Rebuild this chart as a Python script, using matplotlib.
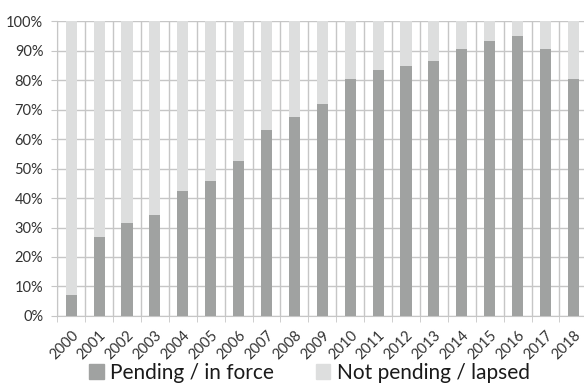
import numpy as np
import matplotlib
matplotlib.use("Agg")
import matplotlib.pyplot as plt
import matplotlib.ticker as ticker
from matplotlib.patches import Patch

# Data (share of applications per filing year, %)
years = [str(y) for y in range(2000, 2019)]
pending = [7.1, 26.8, 31.5, 34.2, 42.4, 45.8, 52.4, 63.2, 67.6, 71.9,
           80.3, 83.4, 84.7, 86.4, 90.5, 93.4, 94.9, 90.5, 80.3]
lapsed = [100 - p for p in pending]

DARK = "#a0a2a1"
LIGHT = "#dddede"
GRID = "#c6c6c6"

plt.rcParams["font.family"] = ["Lato", "DejaVu Sans"]

fig = plt.figure(figsize=(5.84, 3.83), dpi=100)
ax = fig.add_axes([0.098, 0.175, 0.9077, 0.770])

x = np.arange(len(years))
ax.bar(x, pending, 0.4, color=DARK, zorder=3)
ax.bar(x, lapsed, 0.4, bottom=pending, color=LIGHT, zorder=3)

ax.set_xlim(-0.5, len(years) - 0.5)
ax.set_ylim(0, 100)
ax.yaxis.set_major_locator(ticker.MultipleLocator(10))
ax.yaxis.set_major_formatter(ticker.FuncFormatter(lambda v, _: f"{v:.0f}%"))

ax.set_xticks(x)
ax.set_xticklabels(years, rotation=45, ha="right", rotation_mode="anchor",
                   fontsize=10.5, color="#333333")
ax.tick_params(axis="x", length=0, pad=9)
ax.set_xticks(np.arange(-0.5, len(years), 1), minor=True)
ax.tick_params(axis="x", which="minor", length=4, color=GRID)
ax.tick_params(axis="y", length=4, color=GRID, labelsize=10.5,
               labelcolor="#333333", pad=6)

ax.grid(axis="y", color=GRID, lw=1, zorder=0)
ax.grid(axis="x", which="minor", color=GRID, lw=1, zorder=0)
ax.set_axisbelow(True)
for s in ["top", "right"]:
    ax.spines[s].set_visible(False)
for s in ["left", "bottom"]:
    ax.spines[s].set_color(GRID)

handles = [Patch(color=DARK, label="Pending / in force"),
           Patch(color=LIGHT, label="Not pending / lapsed")]
fig.legend(handles=handles, loc="center", bbox_to_anchor=(0.53, 0.026),
           ncol=2, frameon=False, fontsize=15, handlelength=0.7,
           handleheight=0.7, handletextpad=0.3, columnspacing=2.0,
           labelcolor="#1a1a1a")

fig.savefig("out.png", dpi=100)
